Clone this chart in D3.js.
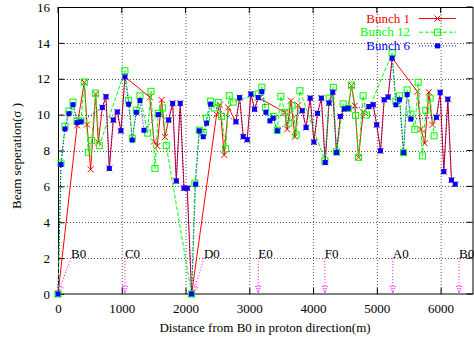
<!DOCTYPE html>
<html><head><meta charset="utf-8">
<script src="https://cdn.jsdelivr.net/npm/d3@7"></script>
<style>body{margin:0;background:#fff}svg{display:block}text{font-family:"Liberation Serif","Times New Roman",serif}</style>
</head><body>
<svg id="c" width="474" height="339"></svg>
<script>
// ---- data ----
const xTicks = [0,1000,2000,3000,4000,5000,6000];
const yTicks = [0,2,4,6,8,10,12,14,16];
const seriesNames = ["Bunch 1","Bunch 12","Bunch 6"];

const xB1 = [0,300,413,455,512,590,632,695,752,805,867,930,987,1050,1442,1505,1557,1625,1677,1735,1798,1855,1917,1975,2027,2095,2487,2539,2607,2670,2790,2848,2905,2967,3025,3083,3140,3558,3594,3652,3715,3767,3830,3890,3955,4013,4070,4130,4190,4250,4308,4368,4428,4488,4550,4603,4655,4713,4785,4875,4942,4998,5058,5115,5177,5240,5637,5690,5752,5815,5873,5935,5993,6050,6113,6170,6228];
const yB1 = [0,9.4,11.8,9.45,6.95,11.15,8.45,10.4,11.0,7.0,9.7,10.15,9.1,12.1,10.97,8.5,8.25,10.82,8.75,9.7,10.63,6.3,10.63,5.9,5.9,0,10.0,10.55,7.75,10.4,9.6,10.95,8.77,8.6,11.15,10.3,10.95,10.13,9.18,10.78,8.77,10.53,10.22,9.28,10.92,8.47,10.07,10.92,7.33,10.65,11.25,7.88,9.9,10.32,10.35,11.62,10.5,7.62,10.13,10.45,10.55,9.43,7.98,10.83,10.98,13.15,11.28,9.18,8.4,11.25,9.43,9.85,11.24,6.82,10.86,6.35,6.12];

const xB12 = [0,47,110,172,235,298,360,413,475,528,590,648,1050,1108,1165,1228,1285,1405,1458,1520,1573,1641,1698,2095,2147,2215,2278,2330,2393,2450,2513,2565,2628,2685,2748,3140,3197,3255,3375,3437,3495,3558,3620,3672,3735,3793,4185,4252,4318,4368,4472,4550,4603,4666,4713,4785,4838,5240,5298,5355,5418,5475,5533,5596,5648,5716,5768,5836,5898];
const yB12 = [0,7.3,9.35,10.2,10.7,9.65,9.65,11.82,7.9,8.55,11.2,8.27,12.45,10.8,8.68,10.25,11.05,8.97,11.3,7.0,10.07,10.37,8.27,0,6.18,9.13,9.0,9.8,10.75,10.37,10.68,9.9,8.1,11.05,10.7,11.15,11.53,10.4,9.9,9.13,11.02,10.13,9.52,10.52,8.87,11.33,7.43,10.92,11.52,7.93,10.6,10.35,11.65,9.95,7.62,11.05,9.98,13.44,10.75,11.05,7.88,11.38,10.03,9.18,11.8,7.7,10.24,10.92,8.82];

const xB6 = [0,47,110,172,235,298,360,695,752,805,867,930,987,1050,1108,1165,1228,1285,1348,1573,1735,1798,1855,1917,1975,2027,2095,2158,2215,2278,2330,2393,2790,2848,2905,2967,3025,3083,3140,3197,3260,3323,3375,3440,3830,3890,3955,4013,4070,4130,4190,4250,4308,4368,4428,4488,4550,4875,4942,4998,5058,5115,5177,5240,5298,5355,5418,5475,5533,5935,5993,6050,6113,6170,6228];
const yB6 = [0,7.22,9.2,10.05,10.55,9.55,9.6,10.4,11.0,7.0,9.7,10.15,9.1,12.1,10.58,8.58,10.13,10.78,9.13,10.0,9.7,10.63,6.3,10.63,5.9,5.9,0,6.12,9.1,8.77,9.52,10.58,9.6,10.95,8.77,8.6,11.15,10.3,10.95,11.28,10.13,9.65,9.8,9.1,10.22,9.28,10.92,8.47,10.07,10.92,7.33,10.65,11.25,7.88,9.9,10.32,10.35,10.45,10.55,9.43,7.98,10.83,10.98,13.15,10.55,10.83,7.88,11.12,9.75,9.85,11.24,6.82,10.86,6.35,6.12];

const ipNames = ["B0","C0","D0","E0","F0","A0","B0"];
const ipLabelX = [204,1050,2288,3140,4185,5250,6290];
const ipX = [0,1050,2120,3140,4185,5250,6290];
const ipLabelY = 2.0;

// ---- drawing ----
const svg = d3.select("#c");
const x = d3.scaleLinear().domain([0,6500]).range([58,472.5]);
const y = d3.scaleLinear().domain([0,16]).range([294,7]);
const [x0,x1] = x.range(), [y0,y1] = y.range();

// grid
const grid = svg.append("g").attr("stroke","#555").attr("stroke-dasharray","1,2").attr("stroke-width",1);
xTicks.filter(t=>t>0).forEach(t=>grid.append("line").attr("x1",x(t)+0.5).attr("x2",x(t)+0.5).attr("y1",y0).attr("y2",y1));
yTicks.filter(t=>t>0&&t<16).forEach(t=>grid.append("line").attr("x1",x0).attr("x2",x1).attr("y1",Math.round(y(t))+0.5).attr("y2",Math.round(y(t))+0.5));

// axes
const gx = svg.append("g").attr("transform",`translate(0,${y0})`)
  .call(d3.axisBottom(x).tickValues(xTicks).tickSize(-6).tickPadding(10).tickFormat(d3.format("d")));
const gy = svg.append("g").attr("transform",`translate(${x0},0)`)
  .call(d3.axisLeft(y).tickValues(yTicks).tickSize(-6).tickPadding(8).tickFormat(d3.format("d")));
[gx,gy].forEach(g=>{g.select(".domain").remove();g.selectAll("text").attr("font-size",13).attr("fill","#000").attr("font-family","Liberation Serif");g.selectAll("line").attr("stroke","#000");});
// mirror ticks
const mt = svg.append("g").attr("stroke","#000");
xTicks.forEach(t=>mt.append("line").attr("x1",x(t)).attr("x2",x(t)).attr("y1",y1).attr("y2",y1+6));
yTicks.forEach(t=>mt.append("line").attr("x1",x1).attr("x2",x1-6).attr("y1",y(t)).attr("y2",y(t)));
svg.append("rect").attr("x",x0+0.5).attr("y",y1+0.5).attr("width",x1-x0).attr("height",y0-y1-0.5).attr("fill","none").attr("stroke","#000");

// IP arrows + labels
const ipg = svg.append("g");
ipNames.forEach((n,i)=>{
  const sx=x(ipLabelX[i]), sy=y(ipLabelY), ex=x(ipX[i]), ey=y(0)-1;
  ipg.append("line").attr("x1",sx).attr("y1",sy).attr("x2",ex).attr("y2",ey)
    .attr("stroke","#ff00ff").attr("stroke-dasharray","1,2");
  const a=Math.atan2(ey-sy,ex-sx), L=7, W=2.6;
  const bx=ex-L*Math.cos(a), by=ey-L*Math.sin(a);
  const px=-Math.sin(a)*W, py=Math.cos(a)*W;
  ipg.append("path").attr("d",`M${bx+px},${by+py}L${ex},${ey}L${bx-px},${by-py}Z`)
    .attr("fill","none").attr("stroke","#ff00ff").attr("stroke-dasharray","1,1");
  ipg.append("text").attr("x",sx).attr("y",sy).attr("font-size",13).attr("fill","#000").text(n);
});

// series
const cfg = [
  {xs:xB1, ys:yB1, color:"#ff0000", dash:null, mark:"x"},
  {xs:xB12, ys:yB12, color:"#00ff00", dash:"4,2", mark:"os"},
  {xs:xB6, ys:yB6, color:"#0000ff", dash:"1,2", mark:"fs"}
];
const line = d3.line().x(d=>x(d[0])).y(d=>y(d[1]));
function marker(g,m,color,cx,cy){
  if(m==="x") g.append("path").attr("d",`M${cx-3},${cy-3}L${cx+3},${cy+3}M${cx-3},${cy+3}L${cx+3},${cy-3}`).attr("stroke",color).attr("fill","none");
  else if(m==="os") g.append("rect").attr("x",cx-3).attr("y",cy-3).attr("width",6).attr("height",6).attr("fill","none").attr("stroke",color);
  else g.append("rect").attr("x",cx-2.5).attr("y",cy-2.5).attr("width",5).attr("height",5).attr("fill",color);
}
cfg.forEach(s=>{
  const pts = s.xs.map((v,i)=>[v,s.ys[i]]);
  const g = svg.append("g");
  g.append("path").attr("d",line(pts)).attr("fill","none").attr("stroke",s.color).attr("stroke-width",1)
    .attr("stroke-dasharray",s.dash);
  pts.forEach(p=>marker(g,s.mark,s.color,x(p[0]),y(p[1])));
});

// legend
const lg = svg.append("g");
cfg.forEach((s,i)=>{
  const ly = 18.5 + i*13.7;
  lg.append("text").attr("x",410).attr("y",ly+4).attr("text-anchor","end").attr("font-size",13).attr("fill",s.color).text(seriesNames[i]);
  lg.append("line").attr("x1",419).attr("x2",456).attr("y1",ly).attr("y2",ly).attr("stroke",s.color).attr("stroke-dasharray",s.dash);
  marker(lg,s.mark,s.color,437.5,ly);
});

// axis titles
svg.append("text").attr("x",265).attr("y",332).attr("text-anchor","middle").attr("font-size",13).text("Distance from B0 in proton direction(m)");
svg.append("text").attr("transform","translate(21,156) rotate(-90)").attr("text-anchor","middle").attr("font-size",13).text("Beam seperation(σ )");
</script>
</body></html>
